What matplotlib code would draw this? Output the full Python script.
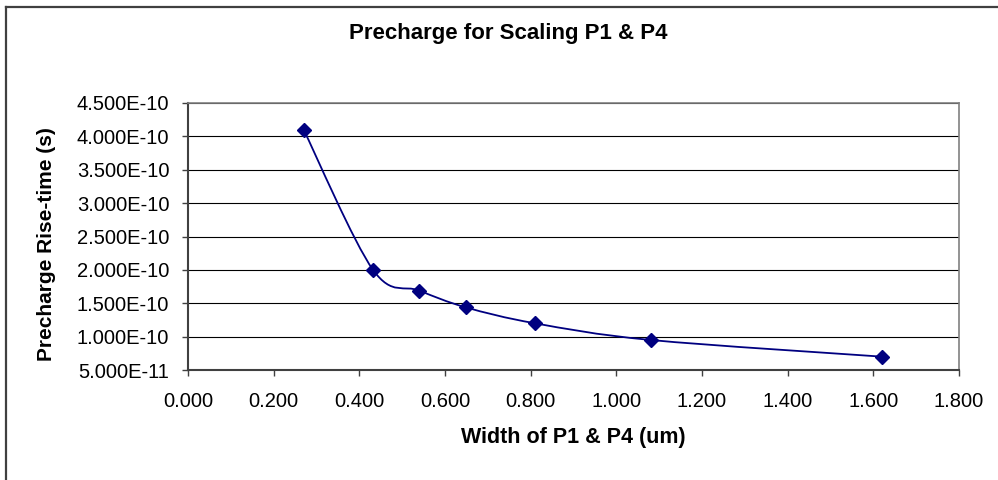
import matplotlib
matplotlib.use("Agg")
import matplotlib.pyplot as plt
from matplotlib.path import Path
from matplotlib.patches import PathPatch
from matplotlib.lines import Line2D
from matplotlib.ticker import FuncFormatter, MultipleLocator
import numpy as np

plt.rcParams['font.family'] = ['Liberation Sans', 'DejaVu Sans']

width_um = [0.270, 0.432, 0.540, 0.648, 0.810, 1.080, 1.620]
rise_time_s = [4.10e-10, 2.00e-10, 1.69e-10, 1.44e-10, 1.20e-10, 0.95e-10, 0.70e-10]

title = "Precharge for Scaling P1 & P4"
xlabel = "Width of P1 & P4 (um)"
ylabel = "Precharge Rise-time (s)"

navy = "#000080"

fig = plt.figure(figsize=(9.98, 4.8), dpi=100)
ax = fig.add_axes([188/998, 1-370/480, (959-188)/998, (370-103)/480])

# smooth (Excel-like) curve through the points via cubic Bezier segments
x = np.array(width_um); y = np.array(rise_time_s)
verts = [(x[0], y[0])]
codes = [Path.MOVETO]
n = len(x)
for i in range(n - 1):
    p0 = np.array([x[max(i-1, 0)], y[max(i-1, 0)]])
    p1 = np.array([x[i], y[i]])
    p2 = np.array([x[i+1], y[i+1]])
    p3 = np.array([x[min(i+2, n-1)], y[min(i+2, n-1)]])
    c1 = p1 + (p2 - p0) / 6.0
    c2 = p2 - (p3 - p1) / 6.0
    verts += [tuple(c1), tuple(c2), tuple(p2)]
    codes += [Path.CURVE4] * 3
ax.add_patch(PathPatch(Path(verts, codes), facecolor='none', edgecolor=navy, lw=1.3, zorder=3))
ax.plot(width_um, rise_time_s, linestyle='none', marker='D', markersize=7.5,
        color=navy, zorder=4)

ax.set_xlim(0, 1.8)
ax.set_ylim(5e-11, 4.5e-10)
ax.xaxis.set_major_locator(MultipleLocator(0.2))
ax.yaxis.set_major_locator(MultipleLocator(5e-11))
ax.xaxis.set_major_formatter(FuncFormatter(lambda v, p: f"{v:.3f}"))

def yfmt(v, p):
    s = f"{v:.3E}"
    mant, exp = s.split("E")
    return f"{mant}E{int(exp)}"
ax.yaxis.set_major_formatter(FuncFormatter(yfmt))

ax.grid(axis='y', color='black', linewidth=0.8)
ax.set_axisbelow(True)
ax.tick_params(axis='both', direction='out', length=4.5, width=1, color='#404040',
               labelsize=14.5)
ax.tick_params(axis='y', pad=9)
ax.tick_params(axis='x', pad=11)
for side in ['left', 'bottom']:
    ax.spines[side].set_color('#404040')
    ax.spines[side].set_linewidth(1.5)
for side in ['top', 'right']:
    ax.spines[side].set_color('#808080')
    ax.spines[side].set_linewidth(1.2)

ax.set_xlabel(xlabel, fontsize=15.5, fontweight='bold', labelpad=12)
ax.set_ylabel(ylabel, fontsize=15, fontweight='bold', labelpad=15)
ax.yaxis.label.set_y(0.47)
fig.text(508/998, 1-34/480, title, fontsize=16, fontweight='bold', ha='center', va='center')

# outer chart border (top and left visible)
fig.add_artist(Line2D([5.5/998, 1.0], [1-6.5/480, 1-6.5/480], transform=fig.transFigure,
                      color='#404040', lw=1.6))
fig.add_artist(Line2D([5.5/998, 5.5/998], [0, 1-6.5/480], transform=fig.transFigure,
                      color='#404040', lw=1.6))

fig.savefig("out.png", dpi=100)
